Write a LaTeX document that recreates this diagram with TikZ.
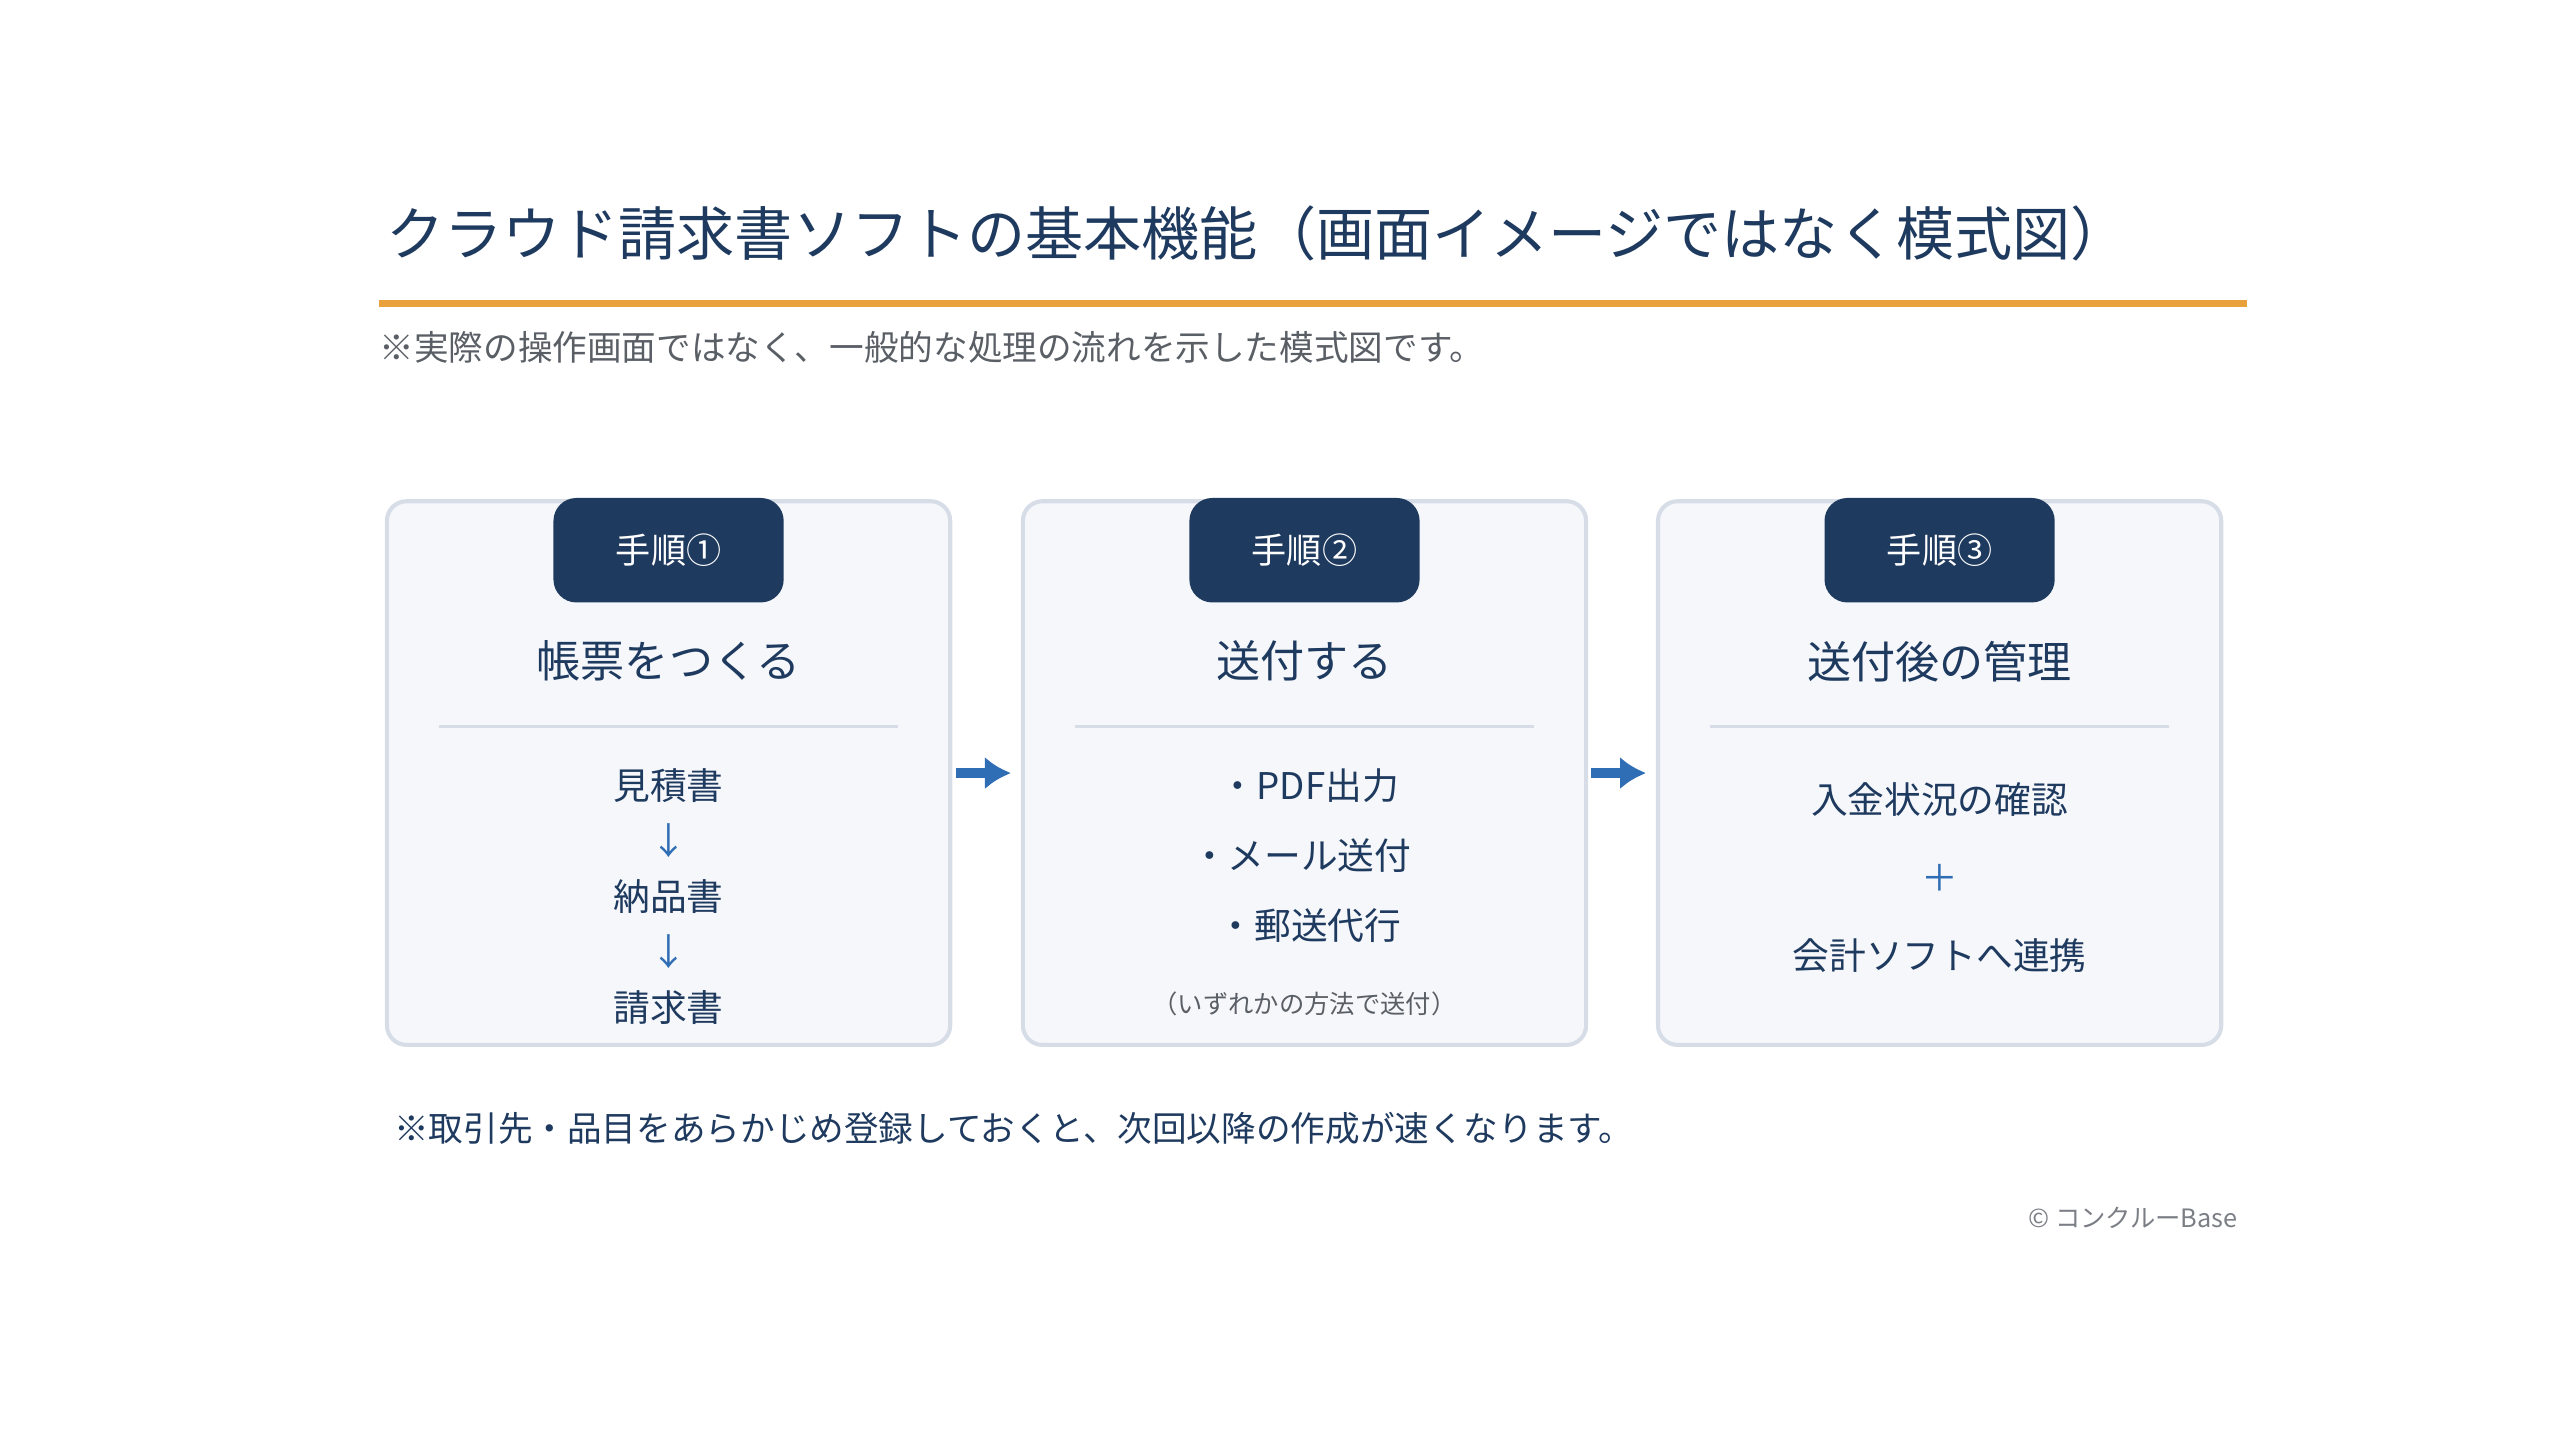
\documentclass[tikz,border=0pt]{standalone}
\usepackage{fontspec}
\setmainfont{Noto Sans CJK JP}
\usetikzlibrary{positioning,arrows.meta}
\definecolor{navy}{HTML}{1F3A5F}
\definecolor{accent}{HTML}{E9A23B}
\definecolor{flow}{HTML}{2F6DB5}
\definecolor{boxline}{HTML}{D6DDE7}
\definecolor{boxfill}{HTML}{F5F7FB}
\definecolor{note}{HTML}{5A5F66}
\newcommand{\fs}[1]{\fontsize{#1bp}{#1bp}\selectfont}
\begin{document}
\begin{tikzpicture}[x=1bp,y=-1bp,
  stepbox/.style={draw=boxline,line width=2.5bp,fill=boxfill,rounded corners=12bp,
    minimum width=345bp,minimum height=333bp,inner sep=0pt},
  badge/.style={fill=navy,text=white,rounded corners=14bp,minimum width=141bp,
    minimum height=64bp,font=\fs{21.5}},
  head/.style={text=navy,font=\fs{27}},
  item/.style={text=navy,font=\fs{22.5}},
  flowarr/.style={draw=flow,line width=6bp,-{Latex[length=16bp,width=20bp]},
    shorten <=2bp,shorten >=6bp}]
\useasboundingbox (0,0) rectangle (1568,882);
%%title
\node[anchor=west,text=navy,font=\fs{35.6}] (title) at (233,143)
  {クラウド請求書ソフトの基本機能（画面イメージではなく模式図）};
\draw[accent,line width=4bp] (232,186) -- (1376,186);
\node[anchor=west,text=note,font=\fs{21.2}] (sub) at (229,213)
  {※実際の操作画面ではなく、一般的な処理の流れを示した模式図です。};
%%steps
\node[stepbox] (box1) at (409.5,473.5) {};
\node[stepbox] (box2) at (799,473.5) {};
\node[stepbox] (box3) at (1188,473.5) {};
\foreach \b/\n in {box1/①,box2/②,box3/③}{
  \node[badge] (\b-badge) at (\b.center |- 0,337) {手順\n};
  \draw[boxline,line width=1.5bp] ([xshift=33bp]\b.west |- 0,445) -- ([xshift=-33bp]\b.east |- 0,445);
}
\node[head] (h1) at (409.5,405) {帳票をつくる};
\node[head] (h2) at (799,405) {送付する};
\node[head] (h3) at (1188,405) {送付後の管理};
%%box1
\node[item] (mitsumori) at (409.5,481) {見積書};
\node[item,text=flow] at (409.5,515) {↓};
\node[item] (nouhin) at (409.5,549) {納品書};
\node[item,text=flow] at (409.5,583) {↓};
\node[item] (seikyu) at (409.5,617) {請求書};
%%box2
\node[item] (pdf) at (802,481) {・PDF出力};
\node[item] (mail) at (797,524) {・メール送付};
\node[item] (yuso) at (802,567) {・郵送代行};
\node[text=note,font=\fs{15.5}] (hoho) at (799,615) {（いずれかの方法で送付）};
%%box3
\node[item] (nyukin) at (1188,490) {入金状況の確認};
\node[item,text=flow] at (1188,538) {＋};
\node[item] (renkei) at (1188,585) {会計ソフトへ連携};
%%arrows
\draw[flowarr] (box1.east) -- (box2.west);
\draw[flowarr] (box2.east) -- (box3.west);
%%notes
\node[anchor=west,text=navy,font=\fs{21.2}] (tip) at (238,691)
  {※取引先・品目をあらかじめ登録しておくと、次回以降の作成が速くなります。};
\node[anchor=east,text=note!80,font=\fs{15.5}] (copy) at (1374,746) {© コンクルーBase};
\end{tikzpicture}
\end{document}
